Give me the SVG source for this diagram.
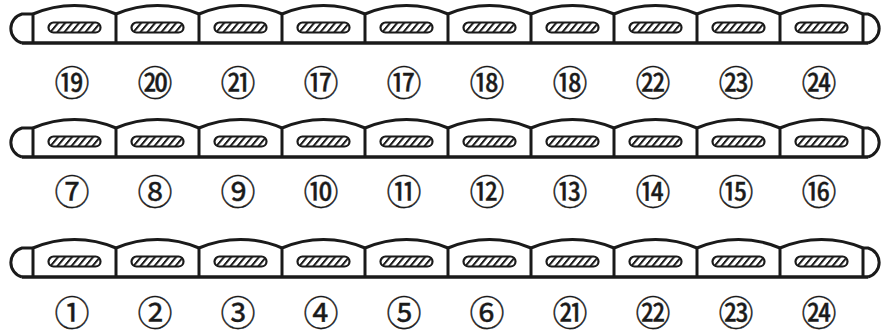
<svg xmlns="http://www.w3.org/2000/svg" xmlns:xlink="http://www.w3.org/1999/xlink" width="888" height="336" viewBox="0 0 888 336">
<style>
.ln{fill:none;stroke:#1a1a1a;stroke-width:3;stroke-linecap:butt;stroke-linejoin:round}
.base{fill:none;stroke:#1a1a1a;stroke-width:3.5}
.slot{fill:url(#hatch);stroke:#1a1a1a;stroke-width:2.2}
.lbl{font-family:"Noto Sans CJK JP","DejaVu Sans",sans-serif;font-size:35px;fill:#1a1a1a;stroke:#1a1a1a;stroke-width:0.4;text-anchor:middle;dominant-baseline:central}
</style>
<defs>
<pattern id="hatch" width="7" height="12" patternUnits="userSpaceOnUse" patternTransform="skewX(-40)">
<rect x="0" y="0" width="2.6" height="12" fill="#1a1a1a"/>
</pattern>
<g id="cell">
<path class="ln" d="M0,-29 A105 105 0 0 1 83,-29 M0,-29 V0"/>
<rect class="slot" x="15.5" y="-20.5" width="52" height="10" rx="5"/>
</g>
<g id="bar">
<path class="ln" d="M33,-29 H22 A15 15 0 0 0 22,0"/>
<path class="ln" d="M863,-29 H868 A15 15 0 0 1 868,0 M863,-29 V0"/>
<path class="base" d="M22,0 H868"/>
</g>
</defs>
<g id="row1" transform="translate(0,43)">
<use xlink:href="#bar"/>
<g id="r1c1"><use xlink:href="#cell" x="33"/><text class="lbl" x="72" y="37">⑲</text></g>
<g id="r1c2"><use xlink:href="#cell" x="116"/><text class="lbl" x="155" y="37">⑳</text></g>
<g id="r1c3"><use xlink:href="#cell" x="199"/><text class="lbl" x="238" y="37">㉑</text></g>
<g id="r1c4"><use xlink:href="#cell" x="282"/><text class="lbl" x="321" y="37">⑰</text></g>
<g id="r1c5"><use xlink:href="#cell" x="365"/><text class="lbl" x="404" y="37">⑰</text></g>
<g id="r1c6"><use xlink:href="#cell" x="448"/><text class="lbl" x="487" y="37">⑱</text></g>
<g id="r1c7"><use xlink:href="#cell" x="531"/><text class="lbl" x="570" y="37">⑱</text></g>
<g id="r1c8"><use xlink:href="#cell" x="614"/><text class="lbl" x="653" y="37">㉒</text></g>
<g id="r1c9"><use xlink:href="#cell" x="697"/><text class="lbl" x="736" y="37">㉓</text></g>
<g id="r1c10"><use xlink:href="#cell" x="780"/><text class="lbl" x="819" y="37">㉔</text></g>
</g>
<g id="row2" transform="translate(0,157)">
<use xlink:href="#bar"/>
<g id="r2c1"><use xlink:href="#cell" x="33"/><text class="lbl" x="72" y="32">⑦</text></g>
<g id="r2c2"><use xlink:href="#cell" x="116"/><text class="lbl" x="155" y="32">⑧</text></g>
<g id="r2c3"><use xlink:href="#cell" x="199"/><text class="lbl" x="238" y="32">⑨</text></g>
<g id="r2c4"><use xlink:href="#cell" x="282"/><text class="lbl" x="321" y="32">⑩</text></g>
<g id="r2c5"><use xlink:href="#cell" x="365"/><text class="lbl" x="404" y="32">⑪</text></g>
<g id="r2c6"><use xlink:href="#cell" x="448"/><text class="lbl" x="487" y="32">⑫</text></g>
<g id="r2c7"><use xlink:href="#cell" x="531"/><text class="lbl" x="570" y="32">⑬</text></g>
<g id="r2c8"><use xlink:href="#cell" x="614"/><text class="lbl" x="653" y="32">⑭</text></g>
<g id="r2c9"><use xlink:href="#cell" x="697"/><text class="lbl" x="736" y="32">⑮</text></g>
<g id="r2c10"><use xlink:href="#cell" x="780"/><text class="lbl" x="819" y="32">⑯</text></g>
</g>
<g id="row3" transform="translate(0,277)">
<use xlink:href="#bar"/>
<g id="r3c1"><use xlink:href="#cell" x="33"/><text class="lbl" x="72" y="33">①</text></g>
<g id="r3c2"><use xlink:href="#cell" x="116"/><text class="lbl" x="155" y="33">②</text></g>
<g id="r3c3"><use xlink:href="#cell" x="199"/><text class="lbl" x="238" y="33">③</text></g>
<g id="r3c4"><use xlink:href="#cell" x="282"/><text class="lbl" x="321" y="33">④</text></g>
<g id="r3c5"><use xlink:href="#cell" x="365"/><text class="lbl" x="404" y="33">⑤</text></g>
<g id="r3c6"><use xlink:href="#cell" x="448"/><text class="lbl" x="487" y="33">⑥</text></g>
<g id="r3c7"><use xlink:href="#cell" x="531"/><text class="lbl" x="570" y="33">㉑</text></g>
<g id="r3c8"><use xlink:href="#cell" x="614"/><text class="lbl" x="653" y="33">㉒</text></g>
<g id="r3c9"><use xlink:href="#cell" x="697"/><text class="lbl" x="736" y="33">㉓</text></g>
<g id="r3c10"><use xlink:href="#cell" x="780"/><text class="lbl" x="819" y="33">㉔</text></g>
</g>
</svg>
